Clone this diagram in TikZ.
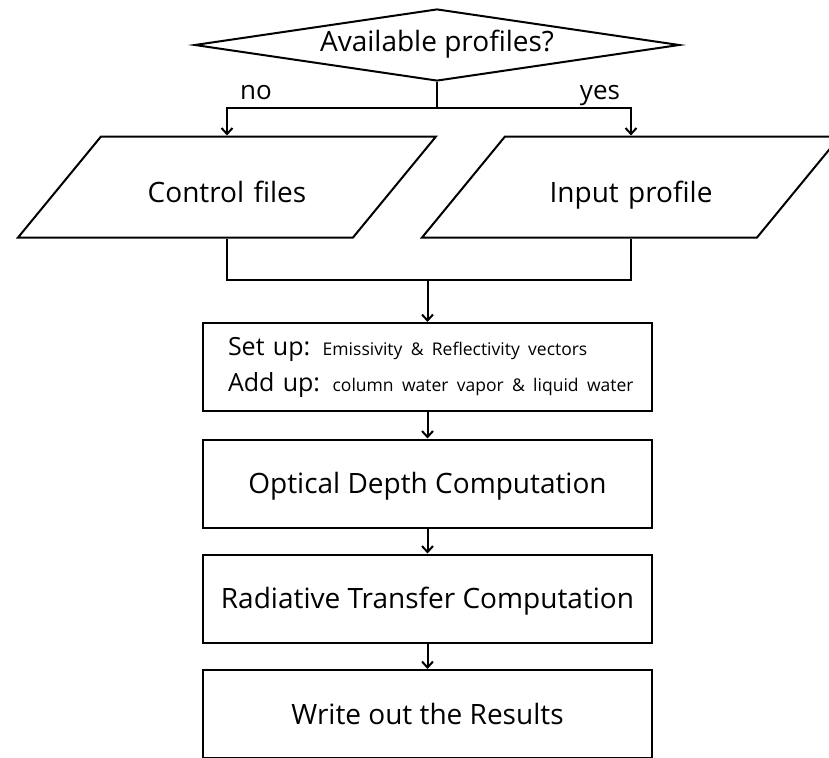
\documentclass[tikz,border=0pt]{standalone}
\usepackage{fontspec}
\setmainfont{Open Sans}
\usetikzlibrary{shapes.geometric,arrows.meta}
\tikzset{
  procbox/.style={draw,line width=2pt,minimum width=449pt,minimum height=88pt,inner sep=0pt,font=\fontsize{28}{32}\selectfont},
  onerow/.style={text height=20pt,text depth=0pt},
  iobox/.style={draw,line width=2pt,trapezium,trapezium left angle=50.6,trapezium right angle=129.4,inner sep=0pt,text width=252pt,align=center,text height=66pt,text depth=35pt,font=\fontsize{28}{32}\selectfont},
  decbox/.style={draw,line width=2pt,diamond,aspect=6.7,minimum width=485pt,minimum height=72pt,inner sep=0pt,font=\fontsize{28}{32}\selectfont,text height=20pt,text depth=6pt},
  flow/.style={line width=2pt,-{Straight Barb[length=6pt,width=11pt,line width=2pt]}},
  plain/.style={line width=2pt},
  branch/.style={font=\fontsize{26}{30}\selectfont,anchor=base}
}
\begin{document}
\begin{tikzpicture}[x=1pt,y=-1pt]
  \useasboundingbox (0,0) rectangle (829,757);
  \clip (0,0) rectangle (829,757);
  \node[decbox] (avail) at (437,45) {Available profiles?};
  \node[iobox] (ctrl) at (227,187) {Control files};
  \node[iobox] (inp) at (631,187) {Input profile};
  \node[procbox,align=left,text width=399pt,inner xsep=25pt,font=\fontsize{25}{36}\selectfont] (setup) at (427.5,367)
    {\mbox{Set up: {\fontsize{17.5}{36}\selectfont Emissivity \& Reflectivity vectors}}\\
     \mbox{Add up: {\fontsize{17.5}{36}\selectfont column water vapor \& liquid water}}};
  \node[procbox,onerow] (optd) at (427.5,483.5) {Optical Depth Computation};
  \node[procbox,onerow] (radt) at (427.5,598.5) {Radiative Transfer Computation};
  \node[procbox,onerow] (wout) at (427.5,714) {Write out the Results};
  \node[branch] (no) at (256,100) {no};
  \node[branch] (yes) at (600,100) {yes};
  \coordinate (split) at (437,108);
  \coordinate (join) at (427.5,280);
  \draw[plain] (avail.south) -- (split);
  \draw[flow] (split) -| (ctrl.north);
  \draw[flow] (split) -| (inp.north);
  \draw[plain] (ctrl.south) |- (join) -| (inp.south);
  \draw[flow] (join) -- (setup);
  \draw[flow] (setup) -- (optd);
  \draw[flow] (optd) -- (radt);
  \draw[flow] (radt) -- (wout);
\end{tikzpicture}
\end{document}
